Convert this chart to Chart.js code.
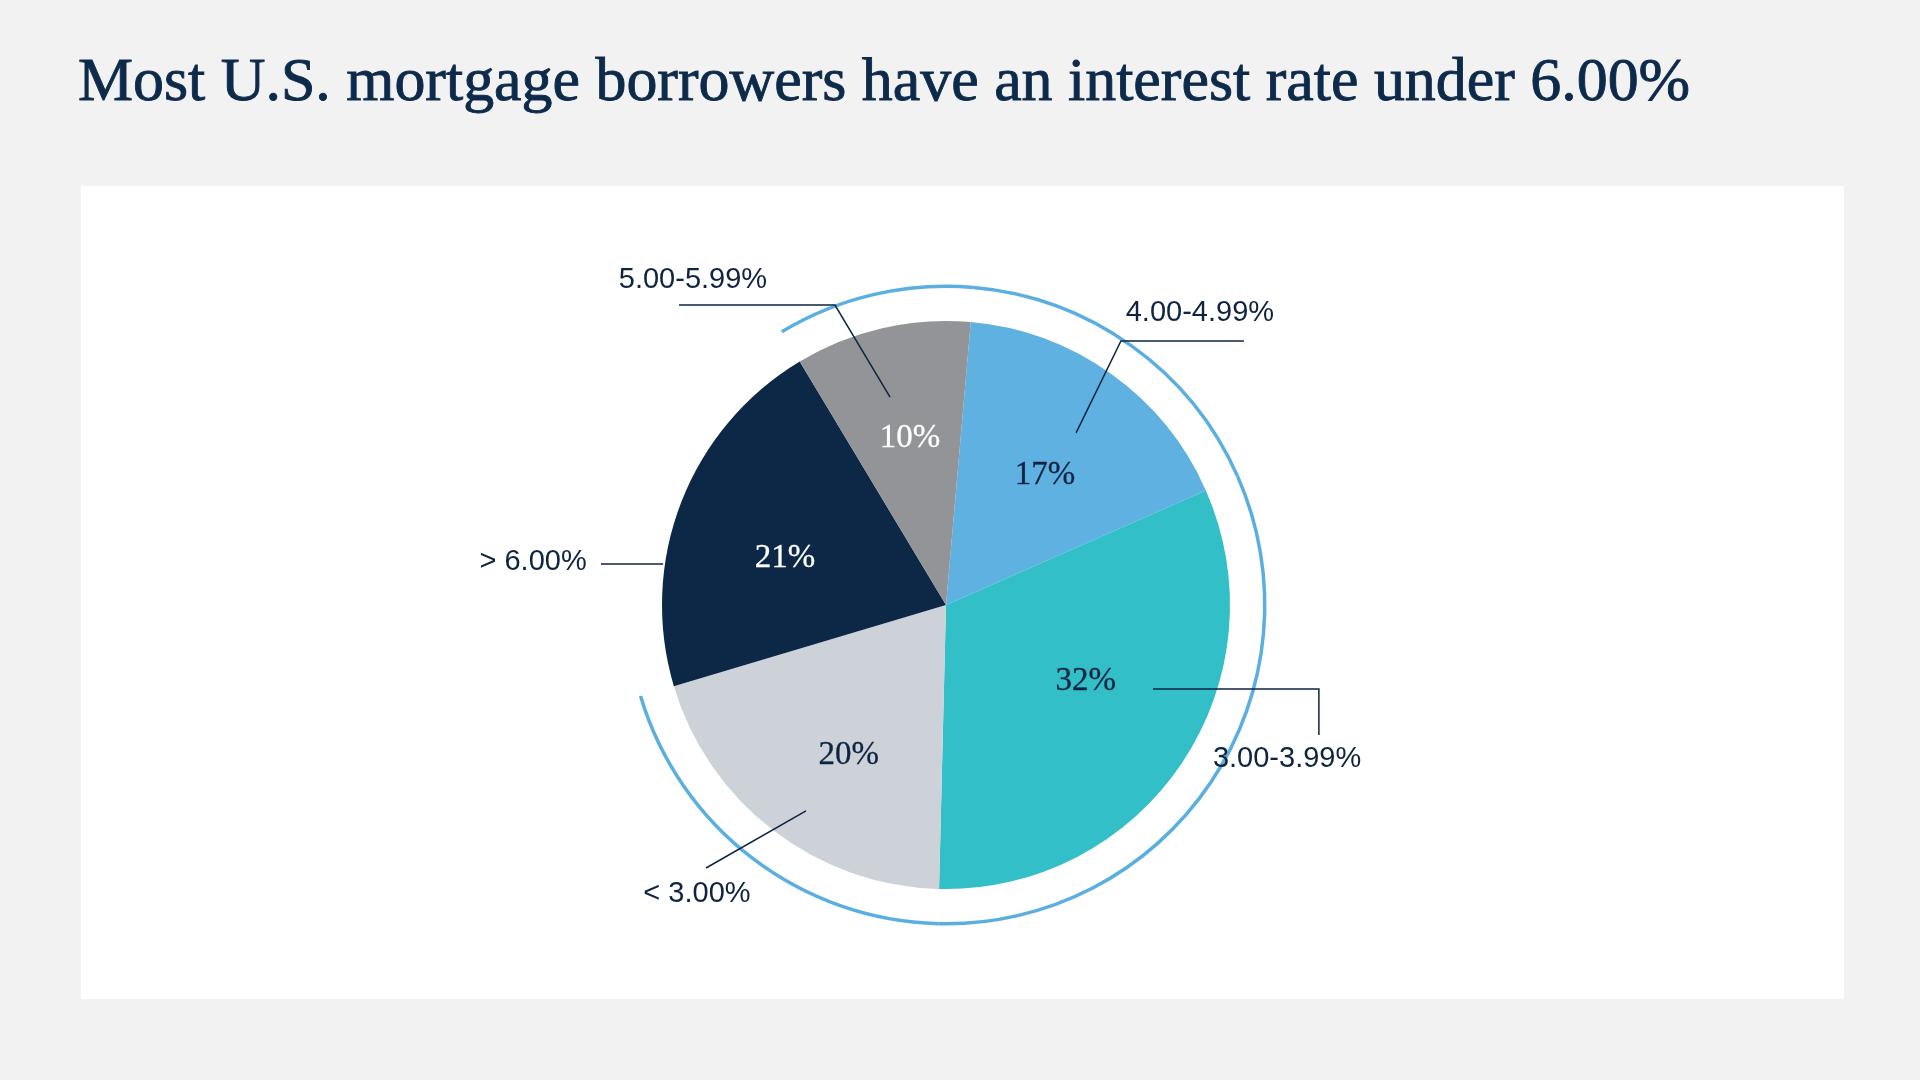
<!DOCTYPE html>
<html>
<head>
<meta charset="utf-8">
<title>Mortgage rates</title>
<script src="https://cdn.jsdelivr.net/npm/chart.js@4.4.1/dist/chart.umd.min.js"></script>
<style>
    html, body {
        margin: 0;
        padding: 0;
        width: 1920px;
        height: 1080px;
        background: #f2f2f2;
        overflow: hidden;
    }
    .title {
        position: absolute;
        left: 78px;
        top: 49px;
        margin: 0;
        font-family: "Liberation Serif", "DejaVu Serif", serif;
        font-weight: normal;
        font-size: 61.9px;
        line-height: 1;
        color: #0d2a4b;
        -webkit-text-stroke: 0.9px #0d2a4b;
        white-space: nowrap;
    }
    .panel {
        position: absolute;
        left: 81px;
        top: 186px;
        width: 1763px;
        height: 813px;
        background: #ffffff;
    }
    #chart-wrap {
        position: absolute;
        left: 0;
        top: 0;
        width: 1920px;
        height: 1080px;
    }
</style>
</head>
<body>
<h1 class="title">Most U.S. mortgage borrowers have an interest rate under 6.00%</h1>
<div class="panel"></div>
<div id="chart-wrap"><canvas id="rate-chart"></canvas></div>

<script>
// Datos (sentido horario desde arriba)
const categories = ['4.00-4.99%', '3.00-3.99%', '< 3.00%', '> 6.00%', '5.00-5.99%'];
const shares = [17, 32, 20, 21, 10];

// Estilos
const sliceColors = ['#5fb1e2', '#33bfc8', '#cdd1d8', '#0d2847', '#939498'];
const valueColors = ['#0e2441', '#0e2441', '#0e2441', '#ffffff', '#ffffff'];
const ringColor = '#5aafe0';
const inkColor = '#0e2441';

// Posición de etiquetas en unidades del radio del pastel (x, y desde el centro)
// value: desplazamiento angular (grados) y radio relativo del porcentaje
const leaderLayout = {
    '4.00-4.99%': { value: [1.7, 0.575], line: [[0.458, -0.606], [0.616, -0.930], [1.049, -0.930]], text: [0.894, -1.028] },
    '3.00-3.99%': { value: [-5.3, 0.56], line: [[0.729, 0.296], [1.313, 0.296], [1.313, 0.458]], text: [1.201, 0.542] },
    '< 3.00%':    { value: [-4.5, 0.63], line: [[-0.493, 0.725], [-0.845, 0.926]], text: [-0.877, 1.018] },
    '> 6.00%':    { value: [-5, 0.59], line: [[-1.215, -0.144], [-0.996, -0.144]], text: [-1.454, -0.151] },
    '5.00-5.99%': { value: [0.8, 0.6], line: [[-0.197, -0.732], [-0.391, -1.056], [-0.940, -1.056]], text: [-0.891, -1.144] }
};

// Plugin: porcentajes dentro de las porciones y etiquetas con líneas guía
const sliceLabels = {
    id: 'sliceLabels',
    afterDatasetsDraw(chart) {
        const meta = chart.getDatasetMeta(2);
        const ctx = chart.ctx;
        ctx.save();
        meta.data.forEach((arc, i) => {
            const R = arc.outerRadius;
            const layout = leaderLayout[categories[i]];
            const mid = (arc.startAngle + arc.endAngle) / 2 + layout.value[0] * Math.PI / 180;
            const vr = R * layout.value[1];

            // porcentaje
            ctx.font = '33px "Liberation Serif", "DejaVu Serif", serif';
            ctx.fillStyle = valueColors[i];
            ctx.strokeStyle = valueColors[i];
            ctx.lineWidth = 0.3;
            ctx.textAlign = 'center';
            ctx.textBaseline = 'middle';
            const vx = arc.x + Math.cos(mid) * vr;
            const vy = arc.y + Math.sin(mid) * vr;
            ctx.fillText(shares[i] + '%', vx, vy);
            ctx.strokeText(shares[i] + '%', vx, vy);

            // etiqueta externa con línea guía
            ctx.strokeStyle = inkColor;
            ctx.lineWidth = 1.5;
            ctx.beginPath();
            layout.line.forEach((p, j) => {
                const px = arc.x + p[0] * R;
                const py = arc.y + p[1] * R;
                if (j === 0) ctx.moveTo(px, py); else ctx.lineTo(px, py);
            });
            ctx.stroke();

            ctx.font = '29px "Liberation Sans", Arial, sans-serif';
            ctx.fillStyle = inkColor;
            ctx.fillText(categories[i], arc.x + layout.text[0] * R, arc.y + layout.text[1] * R);
        });
        ctx.restore();
    }
};

const ctx = document.getElementById('rate-chart');

new Chart(ctx, {
    type: 'pie',
    data: {
        labels: categories,
        datasets: [
            {
                // arco exterior: todo lo que está por debajo de 6.00%
                data: shares,
                backgroundColor: categories.map(c => c === '> 6.00%' ? 'rgba(0,0,0,0)' : ringColor),
                borderWidth: 0,
                weight: 3.5
            },
            {
                // separación blanca
                data: [1],
                backgroundColor: ['rgba(0,0,0,0)'],
                borderWidth: 0,
                weight: 33
            },
            {
                data: shares,
                backgroundColor: sliceColors,
                borderWidth: 0,
                weight: 284
            }
        ]
    },
    options: {
        responsive: true,
        maintainAspectRatio: false,
        animation: false,
        events: [],
        rotation: 5,
        hoverOffset: 0,
        layout: {
            padding: { left: 625.5, right: 653.5, top: 284.5, bottom: 154.5 }
        },
        plugins: {
            legend: { display: false },
            tooltip: { enabled: false }
        }
    },
    plugins: [sliceLabels]
});
</script>
</body>
</html>
